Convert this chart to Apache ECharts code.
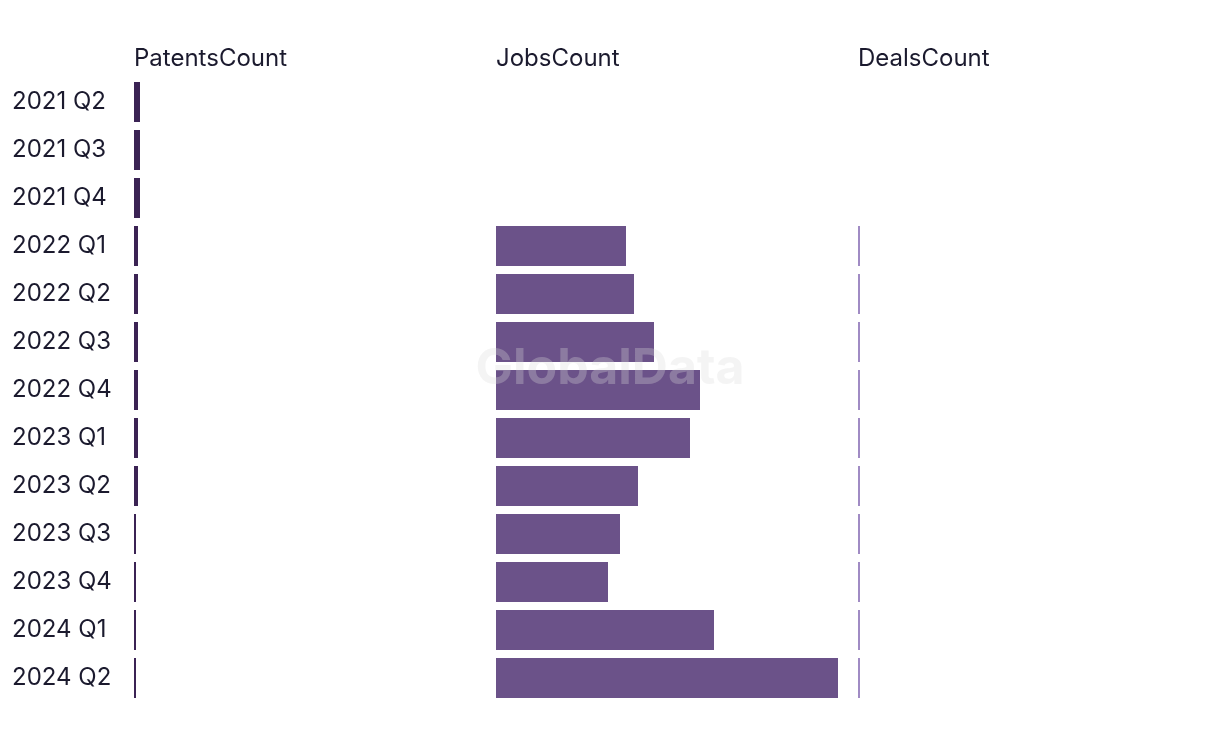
<!DOCTYPE html>
<html>
<head>
<meta charset="utf-8">
<script src="https://cdn.jsdelivr.net/npm/echarts@6/dist/echarts.min.js"></script>
<style>
html,body{margin:0;padding:0;background:#fff;}
#chart{width:1220px;height:740px;}
</style>
</head>
<body>
<div id="chart"></div>
<script>
const categories = ['2021 Q2','2021 Q3','2021 Q4','2022 Q1','2022 Q2','2022 Q3','2022 Q4','2023 Q1','2023 Q2','2023 Q3','2023 Q4','2024 Q1','2024 Q2'];
const panelTitles = ['PatentsCount','JobsCount','DealsCount'];
const patentsCount = [3,3,3,2,2,2,2,2,2,1,1,1,1];
const jobsCount = [null,null,null,65,69,79,102,97,71,62,56,109,171];
const dealsCount = [null,null,null,1,1,1,1,1,1,1,1,1,1];
const colors = ['#3b2354','#6b5289','#a08bc4'];

const seriesData = [patentsCount, jobsCount, dealsCount];
const maxVal = Math.max(...jobsCount.filter(v=>v!=null), ...patentsCount, ...dealsCount.filter(v=>v!=null));
const lefts = [134, 496, 858];
const panelW = 342;
const FONT = 'Inter, "Liberation Sans", sans-serif';

const grids = lefts.map(l => ({left:l, width:panelW, top:78, height:624, containLabel:false}));
const xAxes = lefts.map((l,i) => ({gridIndex:i, type:'value', min:0, max:maxVal, show:false}));
const yAxes = lefts.map((l,i) => ({
  gridIndex:i, type:'category', data:categories, inverse:true,
  axisLine:{show:false}, axisTick:{show:false}, splitLine:{show:false},
  axisLabel:{show:i===0, align:'left', margin:122, color:'#1b1a2e', fontSize:24, fontFamily:FONT, padding:[2,0,0,0]}
}));
const series = seriesData.map((d,i) => ({
  type:'bar', xAxisIndex:i, yAxisIndex:i, data:d,
  barCategoryGap:'16.67%', itemStyle:{color:colors[i]}, silent:true
}));
const titles = panelTitles.map((t,i) => ({
  text:t, left:lefts[i], top:47, padding:0,
  textStyle:{fontSize:24, fontWeight:'normal', color:'#1b1a2e', fontFamily:FONT}
}));

const chart = echarts.init(document.getElementById('chart'), null, {renderer:'canvas'});
chart.setOption({
  animation:false,
  title:titles,
  grid:grids, xAxis:xAxes, yAxis:yAxes, series:series,
  graphic:[{
    type:'text', left:'center', top:344, z:100,
    style:{text:'GlobalData', fontSize:50, fontWeight:'bold', fontFamily:FONT, fill:'rgba(220,220,220,0.3)'}
  }]
});
</script>
</body>
</html>
